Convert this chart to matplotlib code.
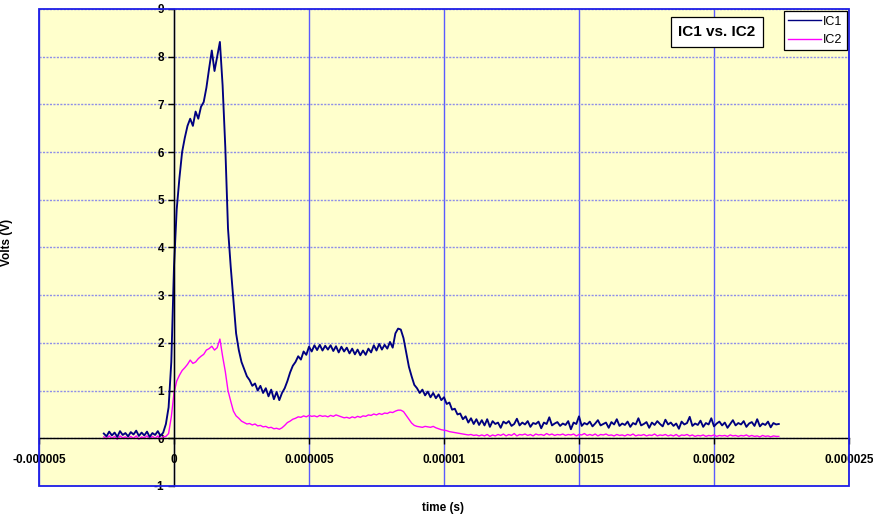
import numpy as np
import matplotlib
matplotlib.use("Agg")
import matplotlib.pyplot as plt
from matplotlib.patches import Rectangle

# ---- data (time in microseconds on a 0.1 us sampling grid starting at -2.6 us) ----
t_start_us = -2.6
t_step_us = 0.1

ic1_volts = [
    0.10, 0.04, 0.14, 0.06, 0.12, 0.03, 0.15, 0.07, 0.11, 0.04,
    0.13, 0.08, 0.16, 0.05, 0.12, 0.06, 0.14, 0.03, 0.11, 0.07,
    0.15, 0.05, 0.12, 0.30, 0.65, 1.60, 3.60, 4.80, 5.45, 6.00,
    6.30, 6.55, 6.70, 6.55, 6.85, 6.70, 6.95, 7.05, 7.35, 7.75,
    8.13, 7.70, 8.00, 8.31, 7.40, 6.10, 4.40, 3.60, 2.90, 2.20,
    1.85, 1.60, 1.45, 1.30, 1.22, 1.10, 1.15, 1.00, 1.10, 0.95,
    1.05, 0.88, 1.02, 0.82, 0.97, 0.80, 0.95, 1.05, 1.20, 1.38,
    1.52, 1.60, 1.72, 1.65, 1.82, 1.75, 1.92, 1.82, 1.95, 1.85,
    1.96, 1.84, 1.94, 1.86, 1.95, 1.83, 1.93, 1.80, 1.92, 1.82,
    1.90, 1.78, 1.88, 1.76, 1.86, 1.74, 1.84, 1.75, 1.88, 1.80,
    1.95, 1.84, 1.98, 1.86, 1.96, 1.88, 2.02, 1.90, 2.20, 2.30,
    2.28, 2.10, 1.80, 1.50, 1.30, 1.12, 1.05, 0.95, 1.02, 0.90,
    0.98, 0.86, 0.95, 0.84, 0.92, 0.80, 0.86, 0.72, 0.75, 0.60,
    0.62, 0.50, 0.52, 0.40, 0.46, 0.33, 0.42, 0.30, 0.40, 0.28,
    0.38, 0.27, 0.40, 0.24, 0.36, 0.30, 0.33, 0.22, 0.35, 0.31,
    0.36, 0.26, 0.30, 0.41, 0.27, 0.33, 0.29, 0.36, 0.24, 0.32,
    0.30, 0.35, 0.21, 0.33, 0.30, 0.44, 0.27, 0.31, 0.34, 0.26,
    0.31, 0.28, 0.36, 0.19, 0.33, 0.30, 0.46, 0.26, 0.32, 0.29,
    0.35, 0.25, 0.31, 0.38, 0.27, 0.30, 0.33, 0.22, 0.34, 0.29,
    0.40, 0.26, 0.31, 0.28, 0.35, 0.24, 0.32, 0.29, 0.42, 0.27,
    0.30, 0.34, 0.22, 0.33, 0.28, 0.36, 0.30, 0.25, 0.39, 0.29,
    0.33, 0.26, 0.31, 0.20, 0.35, 0.29, 0.32, 0.45, 0.26, 0.31,
    0.28, 0.37, 0.24, 0.32, 0.29, 0.42, 0.25, 0.31, 0.35, 0.27,
    0.33, 0.22, 0.30, 0.38, 0.27, 0.32, 0.29, 0.36, 0.24, 0.31,
    0.34, 0.26, 0.40, 0.25, 0.31, 0.28, 0.35, 0.23, 0.32, 0.29,
    0.30,
]

ic2_volts = [
    0.03, -0.01, 0.05, 0.00, 0.04, -0.02, 0.05, 0.01, 0.03, -0.01,
    0.04, 0.00, 0.05, -0.02, 0.03, 0.01, 0.05, -0.01, 0.04, 0.00,
    0.05, -0.02, 0.03, 0.04, 0.10, 0.45, 0.95, 1.20, 1.32, 1.42,
    1.48, 1.55, 1.64, 1.57, 1.60, 1.67, 1.72, 1.76, 1.85, 1.88,
    1.93, 1.85, 1.90, 2.08, 1.72, 1.40, 1.00, 0.78, 0.57, 0.47,
    0.42, 0.36, 0.33, 0.30, 0.31, 0.28, 0.30, 0.26, 0.27, 0.24,
    0.25, 0.22, 0.23, 0.20, 0.21, 0.19, 0.22, 0.27, 0.33, 0.36,
    0.40, 0.42, 0.45, 0.44, 0.47, 0.45, 0.48, 0.46, 0.47, 0.45,
    0.48, 0.46, 0.47, 0.45, 0.48, 0.46, 0.49, 0.47, 0.45, 0.43,
    0.44, 0.42, 0.45, 0.43, 0.46, 0.44, 0.47, 0.46, 0.49, 0.48,
    0.51, 0.49, 0.52, 0.50, 0.53, 0.52, 0.55, 0.54, 0.57, 0.59,
    0.59, 0.56, 0.48, 0.40, 0.32, 0.27, 0.25, 0.24, 0.23, 0.25,
    0.24, 0.23, 0.25, 0.22, 0.20, 0.18, 0.17, 0.16, 0.14, 0.13,
    0.12, 0.11, 0.10, 0.09, 0.08, 0.07, 0.08, 0.06, 0.07, 0.05,
    0.07, 0.05, 0.08, 0.04, 0.07, 0.05, 0.08, 0.06, 0.09, 0.05,
    0.08, 0.06, 0.10, 0.05, 0.08, 0.07, 0.09, 0.06, 0.08, 0.05,
    0.09, 0.07, 0.08, 0.06, 0.10, 0.07, 0.09, 0.06, 0.08, 0.07,
    0.09, 0.06, 0.08, 0.07, 0.09, 0.05, 0.08, 0.07, 0.10, 0.06,
    0.08, 0.06, 0.09, 0.05, 0.08, 0.07, 0.09, 0.06, 0.07, 0.05,
    0.08, 0.06, 0.07, 0.05, 0.08, 0.06, 0.09, 0.05, 0.07, 0.06,
    0.08, 0.05, 0.07, 0.06, 0.09, 0.05, 0.07, 0.06, 0.08, 0.05,
    0.07, 0.05, 0.08, 0.04, 0.07, 0.06, 0.08, 0.05, 0.07, 0.04,
    0.06, 0.05, 0.07, 0.04, 0.06, 0.05, 0.07, 0.04, 0.06, 0.05,
    0.06, 0.04, 0.07, 0.05, 0.06, 0.04, 0.06, 0.05, 0.07, 0.04,
    0.06, 0.04, 0.05, 0.03, 0.06, 0.04, 0.05, 0.03, 0.05, 0.04,
    0.04,
]

x_ticks = [-0.000005, 0, 0.000005, 0.00001, 0.000015, 0.00002, 0.000025]
x_tick_labels = ["-0.000005", "0", "0.000005", "0.00001", "0.000015", "0.00002", "0.000025"]
y_ticks = [-1, 0, 1, 2, 3, 4, 5, 6, 7, 8, 9]
y_tick_labels = ["-1", "0", "1", "2", "3", "4", "5", "6", "7", "8", "9"]

series_names = ["IC1", "IC2"]
title_text = "IC1 vs. IC2"

# ---- figure ----
plt.rcParams['font.family'] = ['Liberation Sans', 'DejaVu Sans']

fig = plt.figure(figsize=(8.73, 5.17), dpi=100)
ax = fig.add_axes([39 / 873, 31 / 517, 810 / 873, 477 / 517])
ax.set_facecolor('#FFFFCC')

t1 = (t_start_us + t_step_us * np.arange(len(ic1_volts))) * 1e-6
t2 = (t_start_us + t_step_us * np.arange(len(ic2_volts))) * 1e-6

ax.set_xlim(-0.000005, 0.000025)
ax.set_ylim(-1, 9)

# gridlines
for xv in x_ticks:
    ax.axvline(xv, color='#5A5AFF', lw=1.0, zorder=1)
for yv in y_ticks:
    ax.axhline(yv, color='#8E8EE8', lw=1.0, ls=(0, (1.5, 1)), zorder=1, snap=True)

ax.plot(t2, ic2_volts, color='#FF00FF', lw=1.0, zorder=3, label=series_names[1])
ax.plot(t1, ic1_volts, color='#000080', lw=1.35, zorder=4, label=series_names[0])

# axes lines crossing at zero
for s in ['top', 'right']:
    ax.spines[s].set_visible(False)
ax.spines['left'].set_position(('data', 0))
ax.spines['bottom'].set_position(('data', 0))
for s in ['left', 'bottom']:
    ax.spines[s].set_color('black')
    ax.spines[s].set_linewidth(1.0)
    ax.spines[s].set_zorder(5)

ax.set_xticks(x_ticks)
ax.set_xticklabels(x_tick_labels, fontsize=8.5, fontweight='bold')
ax.set_yticks(y_ticks)
ax.set_yticklabels(y_tick_labels, fontsize=8.5, fontweight='bold')
ax.tick_params(axis='x', direction='out', length=4, width=1, pad=7)
ax.tick_params(axis='y', direction='out', length=4, width=1, pad=3)

# blue plot-area border
ax.add_patch(Rectangle((0, 0), 1, 1, transform=ax.transAxes, fill=False,
                       edgecolor='#1E1EE6', lw=1.3, zorder=6, clip_on=False))

# title box
ax.text((717 - 39) / 810, (486 - 32) / 477, title_text, transform=ax.transAxes,
        ha='center', va='center', fontsize=11, fontweight='bold', zorder=7,
        bbox=dict(boxstyle='square,pad=0.5', facecolor='white', edgecolor='black', lw=0.9))

# legend
h, l = ax.get_legend_handles_labels()
order = [l.index(n) for n in series_names]
leg = ax.legend([h[i] for i in order], [l[i] for i in order], loc='upper right',
                fontsize=9, frameon=True, fancybox=False, edgecolor='black',
                framealpha=1, borderaxespad=0.2, handlelength=2.6, handletextpad=0.15,
                borderpad=0.35, labelspacing=0.5)
leg.get_frame().set_linewidth(0.9)
for lh in leg.get_lines():
    lh.set_linewidth(1.0)
leg.set_zorder(8)

fig.text(443 / 873, 1 - 508 / 517, "time (s)", ha='center', va='center',
         fontsize=8.5, fontweight='bold')
fig.text(0.001, 1 - 242 / 517, "Volts (V)", ha='left', va='center', rotation=90,
         fontsize=8.5, fontweight='bold')

fig.savefig("out.png", dpi=100)
